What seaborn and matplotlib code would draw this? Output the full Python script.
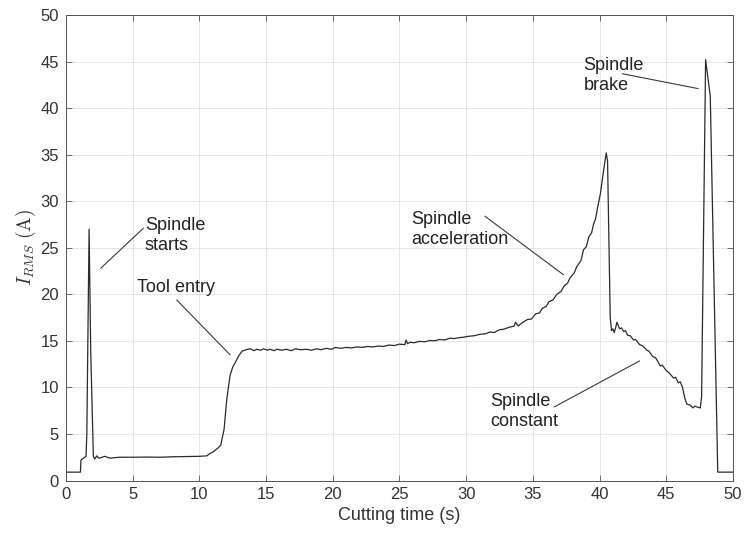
import numpy as np
import pandas as pd
import matplotlib
matplotlib.use("Agg")
import matplotlib.pyplot as plt
import seaborn as sns

# RMS spindle current
time_s = [0.0, 1.0, 1.08, 1.12, 1.3, 1.5, 1.56, 1.73, 1.85, 2.05, 2.15, 2.3, 2.45,
          2.6, 2.9, 3.3, 3.6, 4.0, 5.0, 6.0, 7.0, 8.0, 9.0, 10.0, 10.55, 10.8,
          11.05, 11.4, 11.6, 11.7, 11.85, 12.05, 12.3, 12.5, 12.7, 12.95, 13.2,
          13.5, 13.8, 14.1, 14.3, 14.6, 14.8, 15.1, 15.3, 15.6, 15.8, 16.2, 16.5,
          16.9, 17.2, 17.6, 18.0, 18.4, 18.8, 19.1, 19.5, 19.9, 20.2, 20.6, 21.0,
          21.4, 21.8, 22.2, 22.6, 23.0, 23.4, 23.8, 24.2, 24.6, 25.0, 25.4, 25.5,
          25.6, 25.8, 26.1, 26.5, 26.9, 27.3, 27.6, 28.0, 28.4, 28.8, 29.1, 29.5,
          29.8, 30.2, 30.6, 31.0, 31.4, 31.8, 32.1, 32.5, 32.8, 33.2, 33.6, 33.7,
          33.9, 34.2, 34.6, 34.9, 35.2, 35.5, 35.7, 36.0, 36.2, 36.5, 36.8, 37.1,
          37.35, 37.6, 37.8, 38.1, 38.3, 38.6, 38.8, 39.0, 39.2, 39.4, 39.56, 39.7,
          39.85, 40.06, 40.3, 40.5, 40.6, 40.7, 40.8, 40.9, 41.0, 41.1, 41.2, 41.3,
          41.5, 41.65, 41.8, 41.95, 42.1, 42.3, 42.55, 42.7, 43.0, 43.2, 43.55,
          43.7, 44.0, 44.2, 44.56, 44.7, 45.0, 45.2, 45.55, 45.7, 45.9, 46.05,
          46.2, 46.4, 46.55, 46.8, 47.0, 47.15, 47.3, 47.55, 47.65, 47.95, 48.3,
          48.55, 48.86, 50.0]
irms_a = [0.9, 0.9, 0.9, 2.2, 2.4, 2.6, 5.0, 27.0, 14.0, 2.6, 2.3, 2.65, 2.4,
          2.45, 2.6, 2.4, 2.45, 2.5, 2.5, 2.52, 2.5, 2.55, 2.58, 2.6, 2.65, 2.9,
          3.1, 3.5, 3.8, 4.5, 5.5, 8.7, 11.3, 12.2, 12.7, 13.4, 13.9,
          14.05, 14.15, 13.95, 14.1, 14.0, 14.15, 14.0, 14.1, 13.95, 14.1, 14.0, 14.1,
          13.95, 14.15, 14.05, 14.1, 14.0, 14.15, 14.05, 14.2, 14.1, 14.3, 14.2, 14.3,
          14.25, 14.35, 14.3, 14.4, 14.35, 14.45, 14.4, 14.55, 14.5, 14.65, 14.6, 15.1,
          14.7, 14.85, 14.8, 14.95, 14.9, 15.05, 15.0, 15.15, 15.1, 15.3, 15.25, 15.35,
          15.4, 15.5, 15.55, 15.7, 15.75, 15.95, 15.9, 16.2, 16.25, 16.45, 16.6, 17.0,
          16.6, 16.95, 17.3, 17.35, 17.9, 18.0, 18.5, 18.7, 19.2, 19.4, 20.0, 20.3,
          20.9, 21.2, 21.8, 22.3, 23.0, 23.6, 24.8, 25.1, 26.2, 26.6, 27.6, 28.1,
          29.3, 30.8, 33.3, 35.2, 34.3, 26.0, 17.5, 16.1, 16.3, 15.9, 16.4, 17.0,
          16.3, 16.4, 16.0, 16.1, 15.6, 15.55, 15.1, 15.15, 14.6, 14.5, 14.0,
          13.9, 13.3, 13.2, 12.3, 12.4, 11.8, 11.6, 11.0, 11.1, 10.5, 10.6,
          10.1, 8.8, 8.2, 8.1, 7.8, 8.0, 7.9, 7.8, 9.0, 45.2, 41.3,
          23.0, 0.9, 0.9]

ticks = list(range(0, 55, 5))

# label text, text anchor (x, y), leader line start and end
notes = [
    ("Spindle\nstarts", (5.9, 26.3), (5.8, 27.1), (2.6, 22.8)),
    ("Tool entry", (5.3, 20.7), (8.3, 19.4), (12.3, 13.5)),
    ("Spindle\nacceleration", (25.9, 27.0), (31.4, 28.4), (37.3, 22.1)),
    ("Spindle\nconstant", (31.8, 7.4), (36.6, 7.9), (43.0, 12.85)),
    ("Spindle\nbrake", (38.8, 43.5), (41.7, 43.7), (47.4, 42.1)),
]

df = pd.DataFrame({"t": time_s, "i": irms_a})

sns.set_theme(style="whitegrid")
plt.rcParams["font.family"] = ["Liberation Sans", "DejaVu Sans"]
plt.rcParams["mathtext.fontset"] = "cm"

fig = plt.figure(figsize=(7.46, 5.39), dpi=100)
ax = fig.add_axes([0.0885, 0.1085, 0.894, 0.8635])

sns.lineplot(data=df, x="t", y="i", estimator=None, sort=False,
             color="#2b2b2b", linewidth=0.9, ax=ax)

for label, txt, p0, p1 in notes:
    ax.plot([p0[0], p1[0]], [p0[1], p1[1]], color="#3a3a3a", linewidth=0.8)
    ax.text(txt[0], txt[1], label, ha="left", va="center", fontsize=13,
            color="#222222", linespacing=1.25)

ax.set_xlim(0, 50)
ax.set_ylim(0, 50)
ax.set_xticks(ticks)
ax.set_yticks(ticks)
ax.grid(True, color="#e6e6e6", linewidth=0.7)
ax.set_facecolor("white")
for s in ax.spines.values():
    s.set_color("#555555")
    s.set_linewidth(0.7)
ax.tick_params(direction="in", length=4, width=0.6, color="#555555",
               labelsize=12, labelcolor="#333333", top=True, right=True,
               bottom=True, left=True, pad=5)
ax.set_xlabel("Cutting time (s)", fontsize=13, color="#333333", labelpad=3)
ax.set_ylabel(r"$I_{RMS}\ (\mathrm{A})$", fontsize=14, color="#333333", labelpad=2)

fig.savefig("out.png", dpi=100)
